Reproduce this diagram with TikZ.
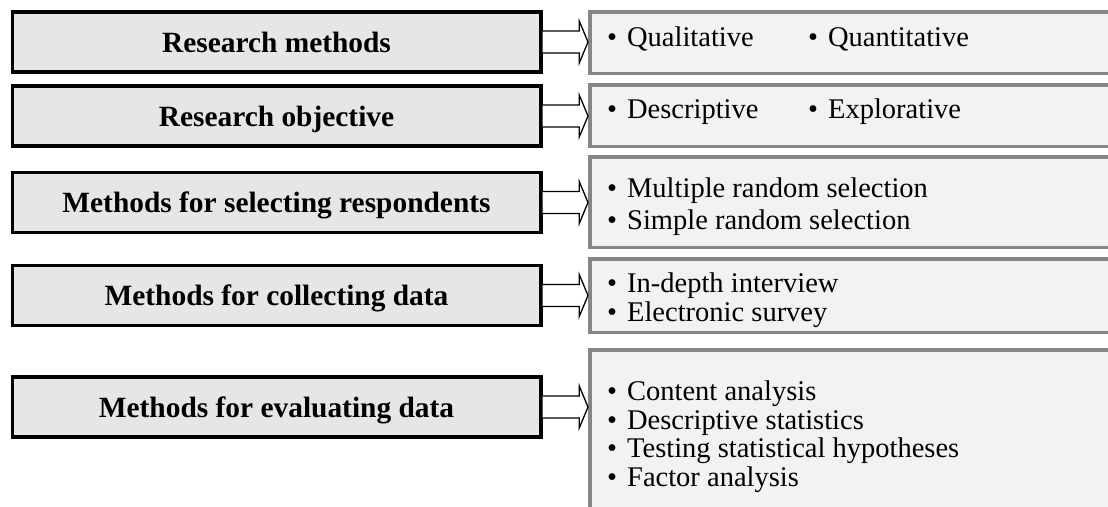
\documentclass[tikz,border=0pt]{standalone}
\usepackage{fontspec}
\setmainfont{Liberation Serif}
\usetikzlibrary{calc}
\definecolor{lfill}{HTML}{E6E6E6}
\definecolor{rfill}{HTML}{F2F2F2}
\definecolor{rdraw}{HTML}{868686}
\tikzset{
  lbox/.style={draw=black, line width=3.5pt, fill=lfill, minimum width=528.5pt,
    minimum height=60pt, inner sep=0pt, text height=20pt, text depth=0pt,
    font=\fontsize{29.4}{34}\selectfont\bfseries},
  rbox/.style={draw=rdraw, line width=3.5pt, fill=rfill, minimum width=540.25pt,
    inner sep=0pt},
  rtext/.style={anchor=base west, inner sep=0pt, font=\fontsize{28.5}{30}\selectfont},
  harrow/.style={draw=black, line width=1.3pt, fill=white, line join=miter},
}
\newcommand\blockarrow[2]{%
  \draw[harrow] ($(#1.east)+(0,-11)$) -- ($(#1.east)+(36.75,-11)$)
    -- ($(#1.east)+(36.75,-21)$) -- (#2.west |- #1.east)
    -- ($(#1.east)+(36.75,21)$) -- ($(#1.east)+(36.75,11)$)
    -- ($(#1.east)+(0,11)$);}
\newcommand\bul{\textbullet\hspace{10pt}}
\begin{document}
\begin{tikzpicture}[x=1pt,y=-1pt]
\clip (0,0) rectangle (1108,506);
\fill[white] (0,0) rectangle (1108,506);
% right boxes
\node[rbox, minimum height=61.5pt] (R1) at (859.875,42.5) {};
\node[rbox, minimum height=61.5pt] (R2) at (859.875,115.5) {};
\node[rbox, minimum height=90.5pt] (R3) at (859.875,202) {};
\node[rbox, minimum height=73.5pt] (R4) at (859.875,295.5) {};
\node[rbox, minimum height=190.25pt] (R5) at (859.875,444.9) {};
% left boxes
\node[lbox] (L1) at (276.5,42) {Research methods};
\node[lbox] (L2) at (276.5,116) {Research objective};
\node[lbox] (L3) at (276.5,202.5) {Methods for selecting respondents};
\node[lbox] (L4) at (276.5,295.5) {Methods for collecting data};
\node[lbox] (L5) at (276.5,407) {Methods for evaluating data};
% arrows
\blockarrow{L1}{R1}
\blockarrow{L2}{R2}
\blockarrow{L3}{R3}
\blockarrow{L4}{R4}
\blockarrow{L5}{R5}
% texts
\node[rtext] (t1a) at (607,46) {\bul Qualitative};
\node[rtext] (t1b) at (808,46) {\bul Quantitative};
\node[rtext] (t2a) at (607,118) {\bul Descriptive};
\node[rtext] (t2b) at (808,118) {\bul Explorative};
\node[rtext] (t3a) at (607,197) {\bul Multiple random selection};
\node[rtext] (t3b) at (607,229) {\bul Simple random selection};
\node[rtext] (t4a) at (607,292) {\bul In-depth interview};
\node[rtext] (t4b) at (607,321) {\bul Electronic survey};
\node[rtext] (t5a) at (607,400) {\bul Content analysis};
\node[rtext] (t5b) at (607,429) {\bul Descriptive statistics};
\node[rtext] (t5c) at (607,457.5) {\bul Testing statistical hypotheses};
\node[rtext] (t5d) at (607,486) {\bul Factor analysis};
\end{tikzpicture}
\end{document}
